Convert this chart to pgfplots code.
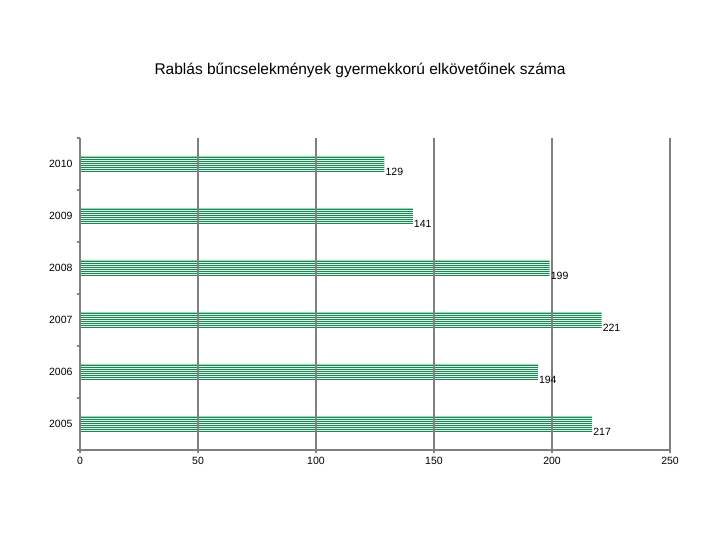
\documentclass[border=0pt]{standalone}
\usepackage{pgfplots}
\pgfplotsset{compat=1.18}
\usepackage{pgfplotstable}
\usepackage{fontspec}
\setmainfont{Liberation Sans}
\definecolor{bargreen}{RGB}{25,135,85}
\definecolor{barmint}{RGB}{170,230,200}
\definecolor{axgrey}{RGB}{128,128,128}

\pgfplotstableread{
count pos
217 0
194 1
221 2
199 3
141 4
129 5
}\robbery

\begin{document}
\begin{tikzpicture}[x=1bp,y=1bp]
\path (0,0) rectangle (720,540);
\node[font=\fontsize{15.5bp}{18bp}\selectfont] at (360,470) {Rablás bűncselekmények gyermekkorú elkövetőinek száma};
\begin{axis}[
at={(80bp,90bp)}, anchor=south west,
scale only axis,
width=590bp, height=312bp,
axis on top,
xbar,
bar width=16bp,
xmin=0, xmax=250,
ymin=-0.5, ymax=5.5,
axis x line*=bottom,
axis y line*=left,
axis line style={axgrey, line width=1.6bp},
xtick={0,50,...,250},
xmajorgrids,
grid style={axgrey, line width=1.6bp},
ytick={0,...,5},
yticklabels={2005,2006,2007,2008,2009,2010},
minor ytick={-0.5,0.5,...,5.5},
major y tick style={draw=none},
minor y tick style={axgrey, line width=1.2bp},
minor tick length=3bp,
x tick style={axgrey, line width=1.2bp},
major tick length=3bp,
tick align=outside,
every tick label/.append style={font=\fontsize{10.5bp}{12bp}\selectfont},
/pgf/number format/assume math mode=true,
yticklabel style={xshift=-1bp},
xticklabel style={yshift=-1bp},
]
% white bar body with the value labels
\addplot[fill=white, draw=none, bar shift=0bp,
  nodes near coords,
  every node near coord/.append style={font=\fontsize{10.5bp}{12bp}\selectfont, anchor=west, xshift=0bp, yshift=-8bp, inner sep=1bp, black}]
  table[x=count, y=pos] {\robbery};
% light top edge
\addplot[fill=barmint, draw=none, bar width=1bp, bar shift=7.5bp, forget plot]
  table[x=count, y=pos] {\robbery};
% green stripes across each bar
\pgfplotsinvokeforeach{-7.5,-5.5,-3.5,-1.5,0.5,2.5,4.5,6.5}{
\addplot[fill=bargreen, draw=none, bar width=1bp, bar shift=#1bp, forget plot]
  table[x=count, y=pos] {\robbery};
}
\end{axis}
\end{tikzpicture}
\end{document}
